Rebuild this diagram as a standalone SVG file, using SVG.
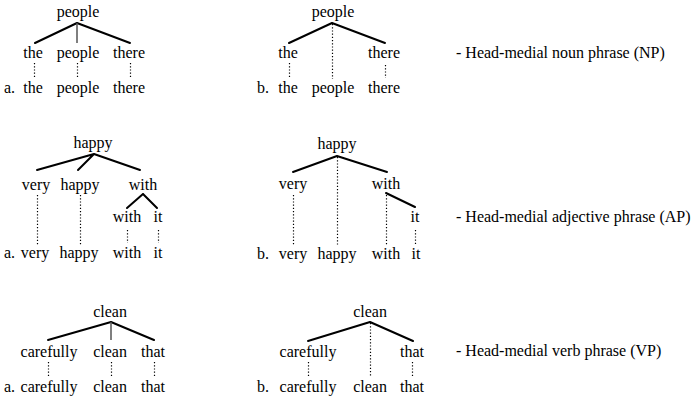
<svg xmlns="http://www.w3.org/2000/svg" width="699" height="399" viewBox="0 0 699 399">
<style>
text{font-family:"Liberation Serif","Times New Roman",serif;font-size:16px;fill:#000;text-anchor:middle}
text.l{text-anchor:start}
.e{stroke:#000;stroke-width:2;fill:none;stroke-linecap:round}
.v{stroke:#555;stroke-width:1.5;fill:none}
.d{stroke:#000;stroke-width:1.2;stroke-dasharray:1.2 2;fill:none}
</style>
<rect width="699" height="399" fill="#fff"/>
<g id="connectors">
<!-- NP a -->
<path class="e" d="M77 23L35 43M77 23L130 43"/>
<path class="v" d="M77 23V43"/>
<path class="d" d="M34.5 63V78M77.5 63V78M130.5 63V78"/>
<!-- NP b -->
<path class="e" d="M332 23L289 43M332 23L385 43"/>
<path class="d" d="M332.5 24V79M289.5 63V78M385.5 65V78"/>
<!-- AP a -->
<path class="e" d="M94 154L37 170M94 154L78 170M94 154L140 170M143 194L127 208M143 194L157 208"/>
<path class="d" d="M37.5 195V245M80.5 195V245M127.5 230V243M158.5 230V243"/>
<!-- AP b -->
<path class="e" d="M337 156L293 172M337 156L387 172M386 193L415 207"/>
<path class="d" d="M337.5 157V245M293.5 195V245M386.5 195V245M415.5 230V245"/>
<!-- VP a -->
<path class="e" d="M111 322L48 340M111 322L154 340"/>
<path class="v" d="M111 322V340"/>
<path class="d" d="M48.5 362V377M111.5 362V377M154.5 362V377"/>
<!-- VP b -->
<path class="e" d="M370 322L308 341M370 322L413 341"/>
<path class="d" d="M370.5 323V377M308.5 362V377M412.5 362V377"/>
</g>
<g id="np-a">
<g id="np-a-root"><text x="78" y="17">people</text></g>
<g id="np-a-the"><text x="33" y="58">the</text></g>
<g id="np-a-people"><text x="78" y="58">people</text></g>
<g id="np-a-there"><text x="129" y="58">there</text></g>
<g id="np-a-words"><text class="l" x="4" y="93">a.</text><text x="33" y="93">the</text><text x="78" y="93">people</text><text x="129" y="93">there</text></g>
</g>
<g id="np-b">
<g id="np-b-root"><text x="333" y="17">people</text></g>
<g id="np-b-the"><text x="288" y="58">the</text></g>
<g id="np-b-there"><text x="384" y="58">there</text></g>
<g id="np-b-words"><text class="l" x="257" y="93">b.</text><text x="288" y="93">the</text><text x="333" y="93">people</text><text x="384" y="93">there</text></g>
</g>
<g id="np-label"><text class="l" x="456" y="58">- Head-medial noun phrase (NP)</text></g>
<g id="ap-a">
<g id="ap-a-root"><text x="93" y="148">happy</text></g>
<g id="ap-a-very"><text x="36" y="190">very</text></g>
<g id="ap-a-happy"><text x="80" y="190">happy</text></g>
<g id="ap-a-with"><text x="143" y="190">with</text></g>
<g id="ap-a-with2"><text x="127" y="222">with</text></g>
<g id="ap-a-it"><text x="158" y="222">it</text></g>
<g id="ap-a-words"><text class="l" x="4" y="258">a.</text><text x="35" y="258">very</text><text x="79" y="258">happy</text><text x="127" y="258">with</text><text x="158" y="258">it</text></g>
</g>
<g id="ap-b">
<g id="ap-b-root"><text x="337" y="149">happy</text></g>
<g id="ap-b-very"><text x="293" y="189">very</text></g>
<g id="ap-b-with"><text x="386" y="189">with</text></g>
<g id="ap-b-it"><text x="415" y="222">it</text></g>
<g id="ap-b-words"><text class="l" x="257" y="259">b.</text><text x="293" y="259">very</text><text x="337" y="259">happy</text><text x="386" y="259">with</text><text x="416" y="259">it</text></g>
</g>
<g id="ap-label"><text class="l" x="456" y="222">- Head-medial adjective phrase (AP)</text></g>
<g id="vp-a">
<g id="vp-a-root"><text x="110" y="317">clean</text></g>
<g id="vp-a-carefully"><text x="49" y="357">carefully</text></g>
<g id="vp-a-clean"><text x="110" y="357">clean</text></g>
<g id="vp-a-that"><text x="153" y="357">that</text></g>
<g id="vp-a-words"><text class="l" x="4" y="392">a.</text><text x="49" y="392">carefully</text><text x="110" y="392">clean</text><text x="153" y="392">that</text></g>
</g>
<g id="vp-b">
<g id="vp-b-root"><text x="370" y="317">clean</text></g>
<g id="vp-b-carefully"><text x="308" y="357">carefully</text></g>
<g id="vp-b-that"><text x="412" y="357">that</text></g>
<g id="vp-b-words"><text class="l" x="257" y="392">b.</text><text x="308" y="392">carefully</text><text x="370" y="392">clean</text><text x="412" y="392">that</text></g>
</g>
<g id="vp-label"><text class="l" x="456" y="356">- Head-medial verb phrase (VP)</text></g>
</svg>
